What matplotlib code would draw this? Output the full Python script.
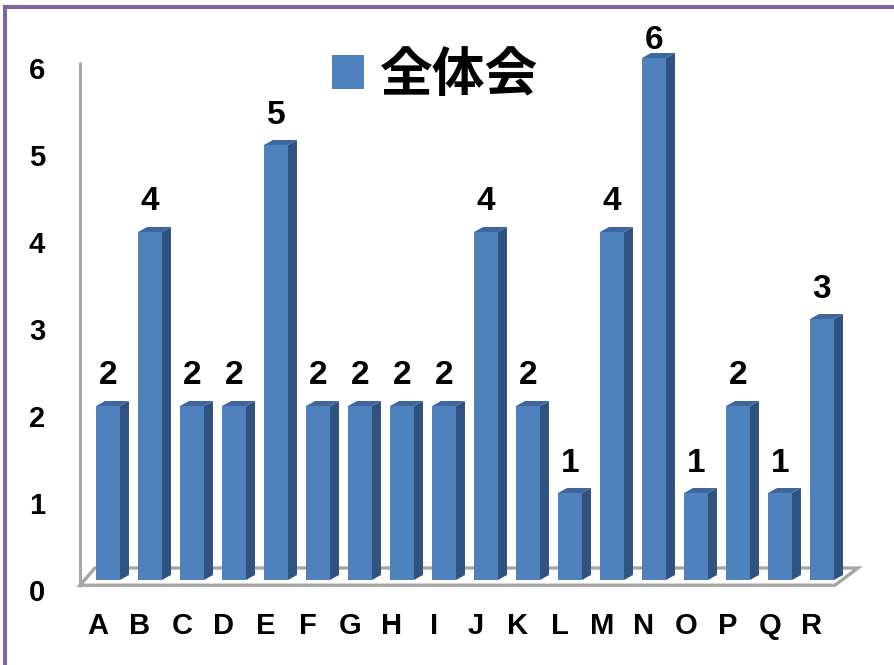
import matplotlib
matplotlib.use("Agg")
import matplotlib.pyplot as plt
from matplotlib.patches import Polygon, Rectangle, Patch
import numpy as np

# data
categories = ["A", "B", "C", "D", "E", "F", "G", "H", "I",
              "J", "K", "L", "M", "N", "O", "P", "Q", "R"]
counts = [2, 4, 2, 2, 5, 2, 2, 2, 2, 4, 2, 1, 4, 6, 1, 2, 1, 3]
series_name = "全体会"
y_ticks = [0, 1, 2, 3, 4, 5, 6]

front = "#4F81BD"
side = "#30527F"
top = "#3D679E"
floor_edge = "#A6A6A6"

fig = plt.figure(figsize=(8.95, 6.65), dpi=100)

# axes laid out in pixels: one category = 42 px, one unit = 87 px
px_x, px_y = 42.0, 87.0
xlo, xhi = -0.8, 17.9
ylo, yhi = -0.3, 6.0
left_px = 108 - (0 - xlo) * px_x
bottom_px = 580 + (0 - ylo) * px_y
ax = fig.add_axes([left_px / 895, (665 - bottom_px) / 665,
                   (xhi - xlo) * px_x / 895, (yhi - ylo) * px_y / 665])
ax.set_xlim(xlo, xhi)
ax.set_ylim(ylo, yhi)
for s in ax.spines.values():
    s.set_visible(False)

x = np.arange(len(categories))
w = 0.57                 # front face width
ddx, ddy = 9 / px_x, 5 / px_y   # depth offset of the 3D look

# floor and back wall line
floor = Polygon([(-0.667, -0.06), (17.31, -0.06), (17.857, 0.138), (-0.31, 0.138)],
                closed=True, facecolor="white", edgecolor=floor_edge, lw=2.4,
                clip_on=False, zorder=1)
ax.add_patch(floor)
ax.plot([-0.667, -0.667], [-0.08, 5.954], color=floor_edge, lw=2.2,
        clip_on=False, zorder=1, solid_capstyle="butt")

# front faces
ax.bar(x, counts, width=w, color=front, zorder=3)

# sides and tops
for xi, v in zip(x, counts):
    xl, xr = xi - w / 2, xi + w / 2
    ax.add_patch(Polygon([(xr, 0), (xr + ddx, ddy), (xr + ddx, v + ddy), (xr, v)],
                         closed=True, facecolor=side, edgecolor="none", zorder=2,
                         clip_on=False))
    ax.add_patch(Polygon([(xl, v), (xr, v), (xr + ddx, v + ddy), (xl + ddx, v + ddy)],
                         closed=True, facecolor=top, edgecolor="none", zorder=2,
                         clip_on=False))
    # value labels, kept inside the chart area
    ax.text(xi, min(v + 30 / px_y, 6.2), str(v), ha="center", va="center",
            fontsize=24, fontweight="bold", family="Liberation Sans",
            clip_on=False, zorder=4)

# tick labels (shifted for the 3D projection)
ax.set_xticks(x - 10 / px_x)
ax.set_xticklabels(categories, fontsize=21, fontweight="bold", family="Liberation Sans")
ax.set_yticks(np.array(y_ticks) - 10 / px_y)
ax.set_yticklabels([str(t) for t in y_ticks], fontsize=21, fontweight="bold",
                   family="Liberation Sans")
ax.tick_params(axis="x", length=0, pad=4)
ax.tick_params(axis="y", length=0, pad=21)

# legend at the top
fig.legend(handles=[Patch(facecolor=front)], labels=[series_name],
           loc="center left", bbox_to_anchor=(306 / 895, (665 - 75) / 665),
           frameon=False, borderpad=0, handlelength=0.6, handleheight=0.6,
           handletextpad=0.3,
           prop={"family": ["Noto Sans CJK JP", "DejaVu Sans"], "size": 38,
                 "weight": "bold"})

# purple frame around the chart
fig.add_artist(Rectangle((5.5 / 895, -0.05), 1.2, (665 - 7) / 665 + 0.05,
                         transform=fig.transFigure, fill=False,
                         edgecolor="#8064A2", lw=2.9))

fig.savefig("out.png", dpi=100)
